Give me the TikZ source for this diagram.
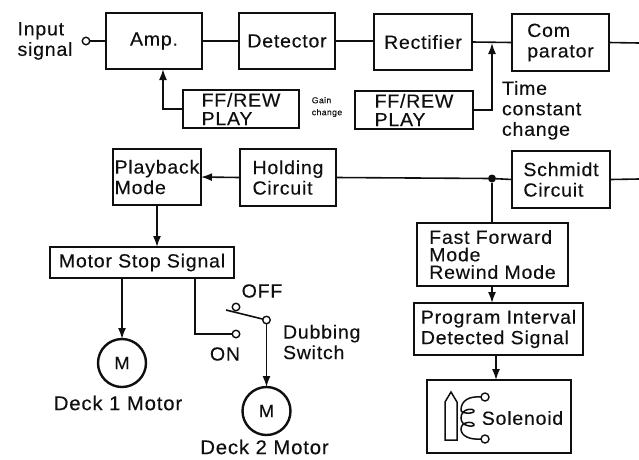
\documentclass[tikz,border=0pt]{standalone}
\usepackage{fontspec}
\setmainfont{Liberation Sans}[FakeStretch=1.03,LetterSpace=4,FakeBold=0.25]
\usetikzlibrary{arrows.meta}
\definecolor{ink}{gray}{0.06}
\tikzset{
  wire/.style={draw=ink,line width=1.6pt},
  arr/.style={wire,-{Latex[length=11pt,width=8pt]}},
  box/.style={draw=ink,line width=2.4pt,inner sep=0pt,outer sep=0pt,align=left,text=ink,
    font=\fontsize{19}{20.5}\selectfont},
  thinbox/.style={box,line width=1.7pt},
  tight/.style={font=\fontsize{19}{18.5}\selectfont},
  mid/.style={font=\fontsize{19}{17.5}\selectfont},
  label/.style={inner sep=0pt,outer sep=0pt,align=left,text=ink,font=\fontsize{19}{20.5}\selectfont},
  decklabel/.style={label,font=\fontsize{19.8}{20.5}\selectfont},
  tiny/.style={label,font=\fontsize{8.5}{12}\selectfont},
  term/.style={circle,draw=ink,line width=1.4pt,fill=white,minimum size=7.5pt,inner sep=0pt,outer sep=0pt},
  motor/.style={circle,draw=ink,line width=2.4pt,minimum size=48pt,inner sep=0pt,outer sep=0pt,text=ink,
    font=\fontsize{18}{20}\selectfont},
  jdot/.style={circle,fill=ink,minimum size=8pt,inner sep=0pt,outer sep=0pt}
}
\begin{document}
\begin{tikzpicture}[x=1pt,y=-1pt]
\useasboundingbox (0,0) rectangle (639,459);
% top row
\node[box,minimum width=96pt,minimum height=56pt] (amp) at (154,41) {Amp.};
\node[box,minimum width=96pt,minimum height=56pt] (det) at (287,41) {Detector};
\node[box,minimum width=98pt,minimum height=56pt] (rec) at (423,42) {Rectifier};
\node[box,minimum width=97pt,minimum height=57pt] (cmp) at (560.5,42.5) {Com\\parator};
\node[box,tight,minimum width=116pt,minimum height=38pt] (ffl) at (241,109) {FF/REW\\PLAY};
\node[box,tight,minimum width=118pt,minimum height=38pt] (ffr) at (414,110) {FF/REW\\PLAY};
% second row
\node[box,minimum width=88pt,minimum height=56pt] (pb) at (157,177) {Playback\\Mode};
\node[box,minimum width=96pt,minimum height=57pt] (hold) at (288,177.5) {Holding\\Circuit};
\node[box,minimum width=98pt,minimum height=57pt] (sch) at (561,179.5) {Schmidt\\Circuit};
% lower left
\node[box,minimum width=184pt,minimum height=31pt] (ms) at (142,262.5) {Motor Stop Signal};
\node[motor] (m1) at (122,363) {M};
\node[motor] (m2) at (266.5,411) {M};
% lower right
\node[box,mid,minimum width=151pt,minimum height=63pt] (ffm) at (492.5,254.5) {Fast Forward\\Mode\\Rewind Mode};
\node[box,minimum width=169pt,minimum height=52pt] (piv) at (498.5,329) {Program Interval\\Detected Signal};
\node[thinbox,minimum width=144pt,minimum height=73pt] (sol) at (499,416.5) {};
% labels
\node[label] (tin) at (45,41) {Input\\signal};
\node[tiny] (tgain) at (327,107) {Gain\\change};
\node[label,anchor=north west] (ttime) at (502,81) {Time\\constant\\change};
\node[label] (toff) at (262,291) {OFF};
\node[label] (ton) at (225,354) {ON};
\node[label,anchor=west] (tdub) at (283,342) {Dubbing\\Switch};
\node[decklabel] (td1) at (118,403) {Deck 1 Motor};
\node[decklabel] (td2) at (264.5,447) {Deck 2 Motor};
\node[label] (tsol) at (522.5,418) {Solenoid};
% terminals and junctions
\node[term] (tin0) at (86,41) {};
\node[term] (ton0) at (236,334) {};
\node[term] (toff0) at (236,307) {};
\node[term] (tpiv) at (266.5,320) {};
\node[jdot] (j) at (492,178.5) {};
\coordinate (jr) at (492,43);
\coordinate (a1) at (163,69);
\coordinate (edgea) at (639,43);
\coordinate (edgeb) at (639,179);
\coordinate (msdown) at (195,278);
\coordinate (msm1) at (122,278);
\coordinate (lever) at (226,310);
\coordinate (pivin) at (496,355);
% wires
\draw[wire] (tin0) -- (amp.west |- tin0);
\draw[wire] (amp) -- (det);
\draw[wire] (det.east) -- (rec.west |- det.east);
\draw[wire] (rec.east) -- (cmp.west);
\draw[wire] (cmp.east) -- (edgea);
\draw[arr] (ffl.west) -| (a1);
\draw[arr] (ffr.east) -| (jr);
\draw[wire] (sch.east) -- (edgeb);
\draw[wire] (sch.west) -- (j);
\draw[wire] (j) -- (hold.east);
\draw[arr] (hold.west) -- (pb.east);
\draw[arr] (pb.south) -- (pb.south |- ms.north);
\draw[arr] (msm1) -- (m1.north);
\draw[wire] (msdown) |- (ton0);
\draw[wire] (tpiv) -- (lever);
\draw[arr] (tpiv) -- (m2.north);
\draw[wire] (j) -- (j |- ffm.north);
\draw[arr] (j |- ffm.south) -- (j |- piv.north);
\draw[arr] (pivin) -- (pivin |- sol.north);
% solenoid symbol
\node[term,minimum size=8pt] (s1) at (485,397) {};
\node[term,minimum size=8pt] (s2) at (485,439) {};
\draw[draw=ink,line width=1.5pt,line join=miter] (445,440) -- (445,402) -- (451,392) -- (457,402) -- (457,440) -- cycle;
\draw[draw=ink,line width=1.5pt] (s1.west) .. controls (470,396) and (461,400) .. (461,410)
  .. controls (461,414) and (474,414) .. (474,411)
  .. controls (474,408) and (461,408) .. (461,418)
  .. controls (461,427) and (474,427) .. (474,425)
  .. controls (474,421) and (461,421) .. (461,429)
  .. controls (461,436) and (470,440) .. (s2.west);
\end{tikzpicture}
\end{document}
